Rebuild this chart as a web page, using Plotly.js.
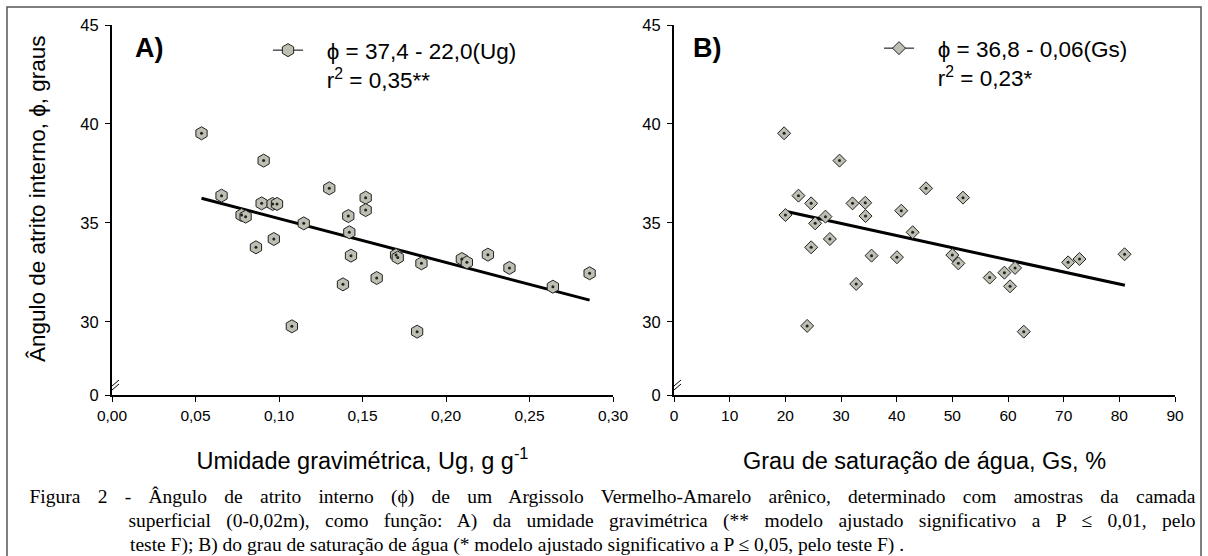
<!DOCTYPE html>
<html><head><meta charset="utf-8">
<script src="https://cdn.plot.ly/plotly-3.0.1.min.js"></script>
<style>html,body{margin:0;padding:0;background:#fff}#chart{width:1208px;height:556px}</style>
</head><body><div id="chart"></div><script>
// ---- Panel A: friction angle vs gravimetric moisture ----
const ugValues = [0.0536, 0.0908, 0.0656, 0.0896, 0.0962, 0.0988, 0.1301, 0.1519, 0.1519, 0.0776,
                  0.0800, 0.1148, 0.1415, 0.1421, 0.0969, 0.0862, 0.1431, 0.1701, 0.1711, 0.1853,
                  0.2095, 0.2125, 0.2251, 0.2380, 0.2640, 0.1585, 0.1383, 0.1077, 0.1827, 0.2860];
const phiA = [39.53, 38.15, 36.38, 35.99, 35.96, 35.96, 36.75, 36.28, 35.65, 35.40,
              35.32, 34.98, 35.35, 34.53, 34.19, 33.77, 33.35, 33.38, 33.25, 32.96,
              33.18, 33.01, 33.40, 32.73, 31.78, 32.22, 31.90, 29.78, 29.51, 32.46];
const fitAx = [0.0536, 0.2860];
const fitAy = [36.25, 31.10];

// ---- Panel B: friction angle vs water saturation degree ----
const gsValues = [19.78, 29.73, 22.36, 24.64, 32.07, 34.35, 40.83, 45.27, 51.92, 20.02,
                  25.36, 27.21, 28.00, 24.64, 34.41, 42.87, 35.49, 40.05, 32.73, 23.92,
                  50.00, 51.08, 56.71, 59.35, 61.27, 60.37, 62.83, 70.80, 72.84, 80.94];
const phiB = [39.53, 38.15, 36.38, 35.99, 35.99, 36.02, 35.62, 36.75, 36.28, 35.40,
              34.98, 35.32, 34.19, 33.77, 35.35, 34.53, 33.35, 33.27, 31.92, 29.80,
              33.38, 32.96, 32.24, 32.49, 32.73, 31.80, 29.51, 33.01, 33.18, 33.42];
const fitBx = [19.8, 81.0];
const fitBy = [35.60, 31.85];

// ---- Tick labels ----
const xTicksA = [0, 0.05, 0.10, 0.15, 0.20, 0.25, 0.30];
const xTickTextA = ['0,00', '0,05', '0,10', '0,15', '0,20', '0,25', '0,30'];
const xTicksB = [0, 10, 20, 30, 40, 50, 60, 70, 80, 90];
const xTickTextB = ['0', '10', '20', '30', '40', '50', '60', '70', '80', '90'];
const yBreak = 26.31;
const yTicks = [yBreak, 30, 35, 40, 45];
const yTickText = ['0', '30', '35', '40', '45'];

// ---- Texts ----
const pad = '\u00a0\u00a0\u00a0';
const legendA = pad + 'ϕ = 37,4 - 22,0(Ug)<br>' + pad + 'r<sup>2</sup> = 0,35**';
const legendB = pad + 'ϕ = 36,8 - 0,06(Gs)<br>' + pad + 'r<sup>2</sup> = 0,23*';
const yTitle = 'Ângulo de atrito interno, ϕ, graus';
const xTitleA = 'Umidade gravimétrica, Ug, g g<sup>-1</sup>';
const xTitleB = 'Grau de saturação de água, Gs, %';
const captionLines = [
  'Figura 2 - Ângulo de atrito interno (ϕ) de um Argissolo Vermelho-Amarelo arênico, determinado com amostras da camada',
  'superficial (0-0,02m), como função: A) da umidade gravimétrica (** modelo ajustado significativo a P ≤ 0,01, pelo',
  'teste F); B) do grau de saturação de água (* modelo ajustado significativo a P ≤ 0,05, pelo teste F) .'
];

// ---- Layout geometry (pixels) ----
const W = 1208, H = 556;
const mL = 112, mR = 33, mT = 25, mB = 161;
const pw = W - mL - mR, ph = H - mT - mB;
const px = v => (v - mL) / pw;
const py = v => (H - mB - v) / ph;

const fill = 'rgb(190,190,178)';
const sans = "'Liberation Sans', Arial, sans-serif";
const serif = "'Liberation Serif', 'Times New Roman', serif";

function panelTraces(x, y, fx, fy, sym, size, xa, ya, lg, lgName) {
  return [
    {x: fx, y: fy, mode: 'lines', xaxis: xa, yaxis: ya,
     line: {color: '#000', width: 3}, showlegend: false, hoverinfo: 'skip'},
    {x: x, y: y, mode: 'markers', xaxis: xa, yaxis: ya, showlegend: false,
     marker: {symbol: sym, size: size, color: fill, line: {color: '#222', width: 1}}},
    {x: x, y: y, mode: 'markers', xaxis: xa, yaxis: ya, showlegend: false, hoverinfo: 'skip',
     marker: {symbol: 'circle', size: 3, color: '#222'}},
    {x: [null], y: [null], mode: 'lines+markers', xaxis: xa, yaxis: ya, name: lgName, legend: lg,
     showlegend: true, line: {color: '#000', width: 1},
     marker: {symbol: sym, size: size, color: fill, line: {color: '#222', width: 1}}}
  ];
}

const data = [].concat(
  panelTraces(ugValues, phiA, fitAx, fitAy, 'hexagon', 13, 'x', 'y', 'legend', legendA),
  panelTraces(gsValues, phiB, fitBx, fitBy, 'diamond', 10, 'x2', 'y2', 'legend2', legendB)
);

const axisCommon = {
  showline: true, linecolor: '#000', linewidth: 2, mirror: false,
  ticks: 'outside', ticklen: 5, tickwidth: 1, tickcolor: '#000',
  showgrid: false, zeroline: false, automargin: false,
  tickfont: {family: sans, size: 15.5, color: '#000'}
};
const yTickFont = {family: sans, size: 16.5, color: '#000'};
const domA = [0, px(613)], domB = [px(674), 1];

const capFont = {family: serif, size: 19.5, color: '#000'};
const layout = {
  width: W, height: H,
  margin: {l: mL, r: mR, t: mT, b: mB},
  paper_bgcolor: '#fff', plot_bgcolor: '#fff',
  font: {family: sans, color: '#000'},
  showlegend: true,
  xaxis: Object.assign({}, axisCommon, {domain: domA, range: [0, 0.30], anchor: 'y',
    tickvals: xTicksA, ticktext: xTickTextA,
    title: {text: xTitleA, font: {family: sans, size: 23.5}, standoff: 30}}),
  yaxis: Object.assign({}, axisCommon, {range: [yBreak, 45], anchor: 'x',
    tickvals: yTicks, ticktext: yTickText, ticklabelstandoff: 3, tickfont: yTickFont}),
  xaxis2: Object.assign({}, axisCommon, {domain: domB, range: [0, 90], anchor: 'y2',
    tickvals: xTicksB, ticktext: xTickTextB,
    title: {text: xTitleB, font: {family: sans, size: 23.5}, standoff: 30}}),
  yaxis2: Object.assign({}, axisCommon, {range: [yBreak, 45], anchor: 'x2',
    tickvals: yTicks, ticktext: yTickText, ticklabelstandoff: 3, tickfont: yTickFont}),
  legend: {x: px(268), y: py(29), xanchor: 'left', yanchor: 'top', bgcolor: 'rgba(0,0,0,0)',
    font: {family: sans, size: 22.5, color: '#000'}, valign: 'top', itemwidth: 30},
  legend2: {x: px(879), y: py(27), xanchor: 'left', yanchor: 'top', bgcolor: 'rgba(0,0,0,0)',
    font: {family: sans, size: 22.5, color: '#000'}, valign: 'top', itemwidth: 30},
  annotations: [
    {text: yTitle, xref: 'paper', yref: 'paper', x: px(37), y: py(199), xanchor: 'center', yanchor: 'middle',
     textangle: -90, showarrow: false, font: {family: sans, size: 22.5, color: '#000'}},
    {text: '<b>A)</b>', xref: 'paper', yref: 'paper', x: px(133), y: py(48), xanchor: 'left', yanchor: 'middle',
     showarrow: false, font: {family: sans, size: 27, color: '#000'}},
    {text: '<b>B)</b>', xref: 'paper', yref: 'paper', x: px(691), y: py(48), xanchor: 'left', yanchor: 'middle',
     showarrow: false, font: {family: sans, size: 27, color: '#000'}},
    {text: captionLines[0], xref: 'paper', yref: 'paper', x: px((29 + 1195) / 2), y: py(497), xanchor: 'center', yanchor: 'middle',
     showarrow: false, font: capFont},
    {text: captionLines[1], xref: 'paper', yref: 'paper', x: px((128 + 1195) / 2), y: py(521), xanchor: 'center', yanchor: 'middle',
     showarrow: false, font: capFont},
    {text: captionLines[2], xref: 'paper', yref: 'paper', x: px(128), y: py(545), xanchor: 'left', yanchor: 'middle',
     showarrow: false, font: capFont}
  ],
  shapes: [
    {type: 'rect', xref: 'paper', yref: 'paper', x0: px(7), x1: px(1201), y0: py(570), y1: py(7),
     line: {color: '#555', width: 1.5}, fillcolor: 'rgba(0,0,0,0)', layer: 'below'}
  ]
};
// axis-break marks
[['x', 'y'], ['x2', 'y2']].forEach(([xr, yr]) => {
  [[-1, 11], [3, 15]].forEach(([a, b]) => {
    layout.shapes.push({type: 'line', xref: xr, yref: yr, xsizemode: 'pixel', ysizemode: 'pixel',
      xanchor: 0, yanchor: yBreak, x0: -7, x1: 7, y0: a, y1: b, line: {color: '#000', width: 1}});
  });
});

Plotly.newPlot('chart', data, layout, {displayModeBar: false, staticPlot: true}).then(gd => {
  // justify the first two caption lines (as in the printed figure)
  const targets = [[captionLines[0], 1195 - 29], [captionLines[1], 1195 - 128]];
  gd.querySelectorAll('.annotation-text').forEach(t => {
    targets.forEach(([txt, width]) => {
      if (t.textContent === txt) {
        const natural = t.getComputedTextLength();
        const spaces = (txt.match(/ /g) || []).length;
        if (natural < width && spaces) t.style.wordSpacing = ((width - natural) / spaces).toFixed(2) + 'px';
      }
    });
  });
});
</script></body></html>
